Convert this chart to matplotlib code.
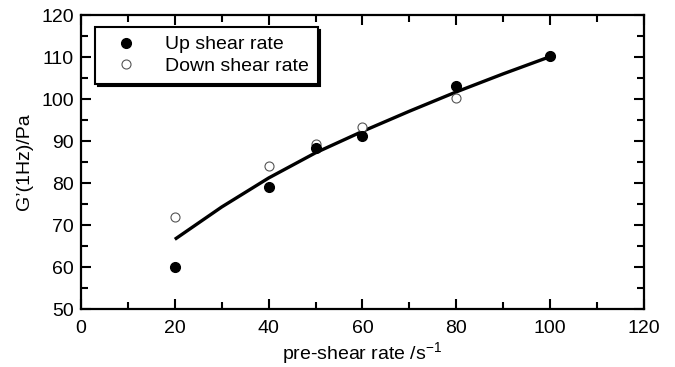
import matplotlib
matplotlib.use("Agg")
import matplotlib.pyplot as plt
from matplotlib.ticker import MultipleLocator

plt.rcParams['font.family'] = ['Liberation Sans', 'DejaVu Sans']

# Data
up_x = [20, 40, 50, 60, 80, 100]
up_y = [60, 79, 88.3, 91.2, 103.2, 110.2]
down_x = [20, 40, 50, 60, 80, 100]
down_y = [72, 84.1, 89.3, 93.3, 100.2, 110.2]
fit_x = [20, 30, 40, 50, 60, 70, 80, 90, 100]
fit_y = [66.6, 74.3, 81.2, 87.2, 92.3, 97.1, 101.7, 106.0, 110.1]

fig = plt.figure(figsize=(6.75, 3.67), dpi=100)
ax = fig.add_axes([0.12, 0.158, 0.834, 0.801])

ax.plot(fit_x, fit_y, color='black', lw=2.4, solid_capstyle='butt',
        solid_joinstyle='round', zorder=2)
ax.plot(down_x, down_y, 'o', mfc='white', mec='#555555', mew=0.8, ms=6.5,
        label='Down shear rate', zorder=3)
ax.plot(up_x, up_y, 'o', color='black', ms=7, label='Up shear rate', zorder=4)

ax.set_xlim(0, 120)
ax.set_ylim(50, 120)
ax.xaxis.set_major_locator(MultipleLocator(20))
ax.xaxis.set_minor_locator(MultipleLocator(10))
ax.yaxis.set_major_locator(MultipleLocator(10))
ax.yaxis.set_minor_locator(MultipleLocator(5))
ax.tick_params(which='both', direction='in', top=True, right=True,
               labelsize=14, width=1.5)
ax.tick_params(axis='x', pad=8)
ax.tick_params(axis='y', pad=5)
ax.tick_params(which='major', length=7)
ax.tick_params(which='minor', length=5)
for s in ax.spines.values():
    s.set_linewidth(1.6)

ax.set_xlabel('pre-shear rate /s$^{\\mathregular{-1}}$', fontsize=14, labelpad=2)
ax.set_ylabel('G\u2019(1Hz)/Pa', fontsize=14, labelpad=6)

handles, labels = ax.get_legend_handles_labels()
leg = ax.legend(handles[::-1], labels[::-1], loc='upper left',
                bbox_to_anchor=(0.025, 0.959), fontsize=14, frameon=True,
                fancybox=False, shadow={'color': 'black', 'alpha': 1},
                handletextpad=0.85, borderpad=0.45, labelspacing=0.2,
                handlelength=2.3, borderaxespad=0.0)
leg.get_frame().set_edgecolor('black')
leg.get_frame().set_linewidth(1.5)

fig.savefig('out.png', dpi=100)
